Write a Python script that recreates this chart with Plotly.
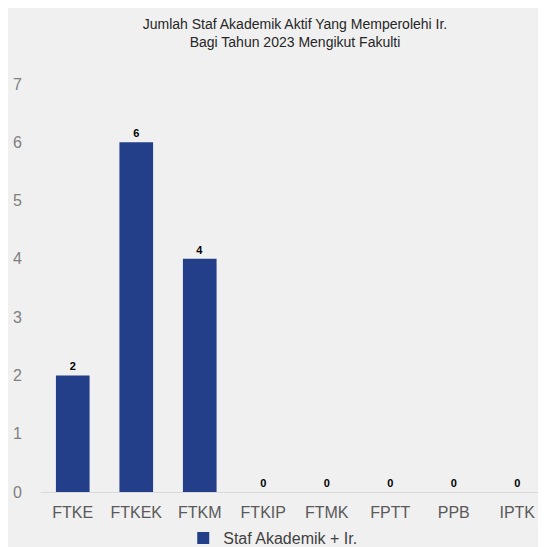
import plotly.graph_objects as go

# chart data
fakulti = ['FTKE', 'FTKEK', 'FTKM', 'FTKIP', 'FTMK', 'FPTT', 'PPB', 'IPTK']
staf_ir = [2, 6, 4, 0, 0, 0, 0, 0]

FONT = 'Liberation Sans, Arial, sans-serif'

fig = go.Figure(go.Bar(
    x=fakulti, y=staf_ir,
    name='Staf Akademik + Ir.',
    marker=dict(color='#243f8a', line=dict(width=0)),
    width=0.53,
    text=staf_ir, textposition='outside',
    textfont=dict(family=FONT, size=11, color='black', weight='bold'),
    cliponaxis=False,
))

# page has an 8px body margin, so everything is placed 8px up/left
fig.update_layout(
    width=546, height=547,
    paper_bgcolor='#f0f0f0', plot_bgcolor='#f0f0f0',
    font=dict(family=FONT, color='#595959'),
    title=dict(text='Jumlah Staf Akademik Aktif Yang Memperolehi Ir.<br>Bagi Tahun 2023 Mengikut Fakulti',
               xref='paper', x=0.5, xanchor='center', y=0.9625, yanchor='top',
               font=dict(size=14, color='#262626')),
    margin=dict(l=33, r=5, t=76, b=63, autoexpand=False),
    showlegend=True,
    legend=dict(orientation='h', x=0.28, xanchor='left', y=-0.113, yanchor='middle',
                itemwidth=30, font=dict(size=16, color='#404040'),
                bgcolor='rgba(0,0,0,0)'),
)
fig.update_yaxes(range=[0, 7], dtick=1, showgrid=False, zeroline=False, automargin=False,
                 tickfont=dict(size=16, color='#7f7f7f'), ticklabelstandoff=18)
fig.update_xaxes(range=[-0.5, 7.5], showline=True, linecolor='#d9d9d9', linewidth=1,
                 automargin=False,
                 tickfont=dict(size=16, color='#595959'), ticklabelstandoff=6)

fig.write_html('out.html')
